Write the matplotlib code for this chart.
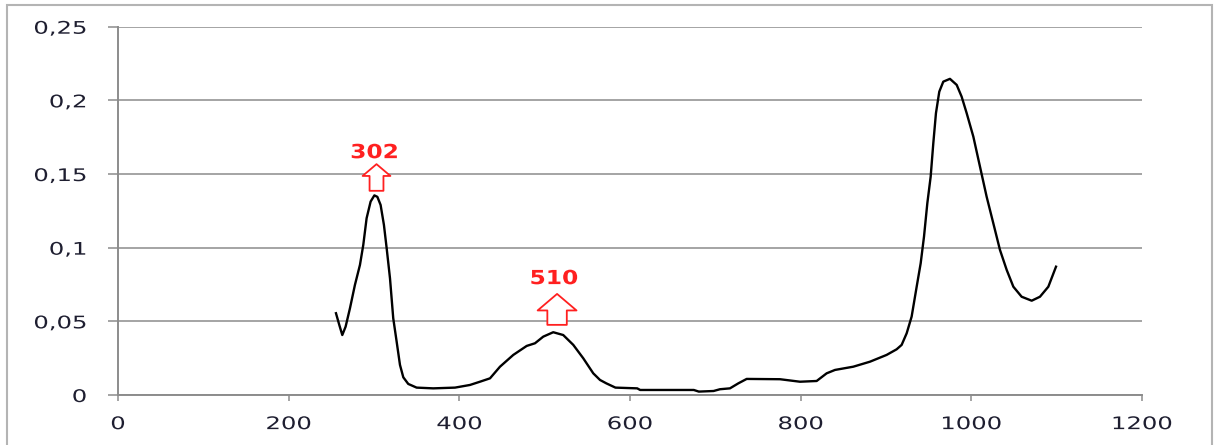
import matplotlib

matplotlib.use("Agg")
import matplotlib.pyplot as plt
from matplotlib import patheffects
from matplotlib.patches import Rectangle
from matplotlib.transforms import Affine2D

# spectre (longueur d'onde, absorbance)
wavelength = [255.5, 259.4, 262.9, 266.8, 271.9, 277.7, 283.6, 287.5, 291.4,
              296.1, 300.5, 304, 307.8, 311.7, 314.9, 318.8, 322.6, 326.6,
              330.5, 334.4, 340.2, 350, 369.5, 395, 412.5, 424.2, 436, 447.7,
              463.3, 479, 488.7, 498.4, 510.1, 521.8, 533.6, 545.3, 557,
              564.9, 572.3, 583, 608.5, 612, 674.8, 680.7, 698, 705.5, 717.2,
              727, 736.8, 775.8, 799.3, 818.8, 830.5, 840.3, 861.7, 881.3,
              900.8, 912.5, 918.4, 924.3, 930.1, 936, 940.7, 944.6, 948.5,
              952.4, 955.5, 958.6, 962.5, 967.2, 975, 982.9, 988.7, 994.6,
              1002.4, 1010.2, 1018, 1025.8, 1033.6, 1041.5, 1049.3, 1059,
              1070.8, 1080.5, 1090.3, 1099.3]
absorbance = [0.0555, 0.0475, 0.0407, 0.0464, 0.0589, 0.0747, 0.0883, 0.1019,
              0.12, 0.1313, 0.1355, 0.1345, 0.129, 0.1154, 0.0996, 0.0792,
              0.0521, 0.0362, 0.0204, 0.012, 0.0075, 0.005, 0.0045, 0.005,
              0.0068, 0.009, 0.0113, 0.0192, 0.0272, 0.0333, 0.0351, 0.0396,
              0.0426, 0.0407, 0.034, 0.0249, 0.0147, 0.0102, 0.0079, 0.005,
              0.0045, 0.0034, 0.0034, 0.0023, 0.0027, 0.0039, 0.0045, 0.0079,
              0.0109, 0.0107, 0.009, 0.0095, 0.0147, 0.017, 0.0192, 0.0226,
              0.0272, 0.031, 0.034, 0.0419, 0.0532, 0.0735, 0.0894, 0.1075,
              0.1302, 0.1482, 0.1709, 0.1913, 0.2059, 0.2127, 0.2146, 0.2105,
              0.2025, 0.1913, 0.1754, 0.155, 0.1346, 0.1166, 0.0985, 0.0849,
              0.0735, 0.0667, 0.064, 0.0667, 0.0735, 0.0871]

peak_labels = ["302", "510"]
peak_x = [300.6, 511]
label_y = [0.1645, 0.079]
arrow_x = [303, 514.6]
arrow_bottom = [0.1386, 0.0476]
arrow_top = [0.1567, 0.0686]

x_ticks = [0, 200, 400, 600, 800, 1000, 1200]
y_ticks = [0, 0.05, 0.1, 0.15, 0.2, 0.25]
y_tick_labels = ["0", "0,05", "0,1", "0,15", "0,2", "0,25"]


class Stretch(patheffects.AbstractPathEffect):
    # élargit le texte horizontalement autour d'un point d'ancrage
    def __init__(self, sx, frac):
        super().__init__()
        self.sx = sx
        self.frac = frac

    def draw_path(self, renderer, gc, tpath, affine, rgbFace=None):
        ext = tpath.get_extents()
        px = ext.x0 + self.frac * ext.width
        t = Affine2D().translate(-px, 0).scale(self.sx, 1).translate(px, 0)
        renderer.draw_path(gc, tpath, t + affine, rgbFace)


grid_color = "#8c8c8c"
text_color = "#1e1e30"

fig = plt.figure(figsize=(12.16, 4.45), dpi=100)
ax = fig.add_axes([0.097, 0.1124, 0.9391 - 0.097, 0.940 - 0.1124])

ax.plot(wavelength, absorbance, color="black", lw=1.7, zorder=3,
        solid_joinstyle="round")

for lab, px, ly, xa, yb, yt in zip(peak_labels, peak_x, label_y,
                                    arrow_x, arrow_bottom, arrow_top):
    ax.text(px, ly, lab, color="#ff2020", fontsize=14, fontweight="bold",
            ha="center", va="center",
            path_effects=[Stretch(1.2, 0.5)])
    scale = 10 if lab == "302" else 14
    ax.annotate("", xy=(xa, yt), xytext=(xa, yb),
                arrowprops=dict(arrowstyle="simple,head_length=0.85,head_width=2.0,tail_width=1.0",
                                fc="white", ec="#ff2020", lw=1.3,
                                mutation_scale=scale, shrinkA=0, shrinkB=0))

ax.set_xlim(0, 1200)
ax.set_ylim(0, 0.25)
ax.set_xticks(x_ticks)
ax.set_yticks(y_ticks)
ax.set_yticklabels(y_tick_labels)
ax.grid(axis="y", color=grid_color, lw=1.1)
ax.set_axisbelow(True)

for side in ["top", "right"]:
    ax.spines[side].set_visible(False)
for side in ["left", "bottom"]:
    ax.spines[side].set_color(grid_color)
    ax.spines[side].set_linewidth(1.4)

ax.tick_params(axis="y", length=7.5, width=1.1, color=grid_color, pad=15,
               labelsize=12.5, labelcolor=text_color)
ax.tick_params(axis="x", length=4.5, width=1.1, color=grid_color, pad=10,
               labelsize=12.5, labelcolor=text_color)
for lbl in ax.get_yticklabels():
    lbl.set_path_effects([Stretch(1.4, 1.0)])
for lbl in ax.get_xticklabels():
    lbl.set_path_effects([Stretch(1.4, 0.5)])

fig.patches.append(Rectangle((0.0058, -0.02), 0.9967 - 0.0058, 0.989 + 0.02,
                             transform=fig.transFigure, fill=False,
                             ec="#b4b4b4", lw=1.5))

fig.savefig("out.png", dpi=100)
plt.close()
